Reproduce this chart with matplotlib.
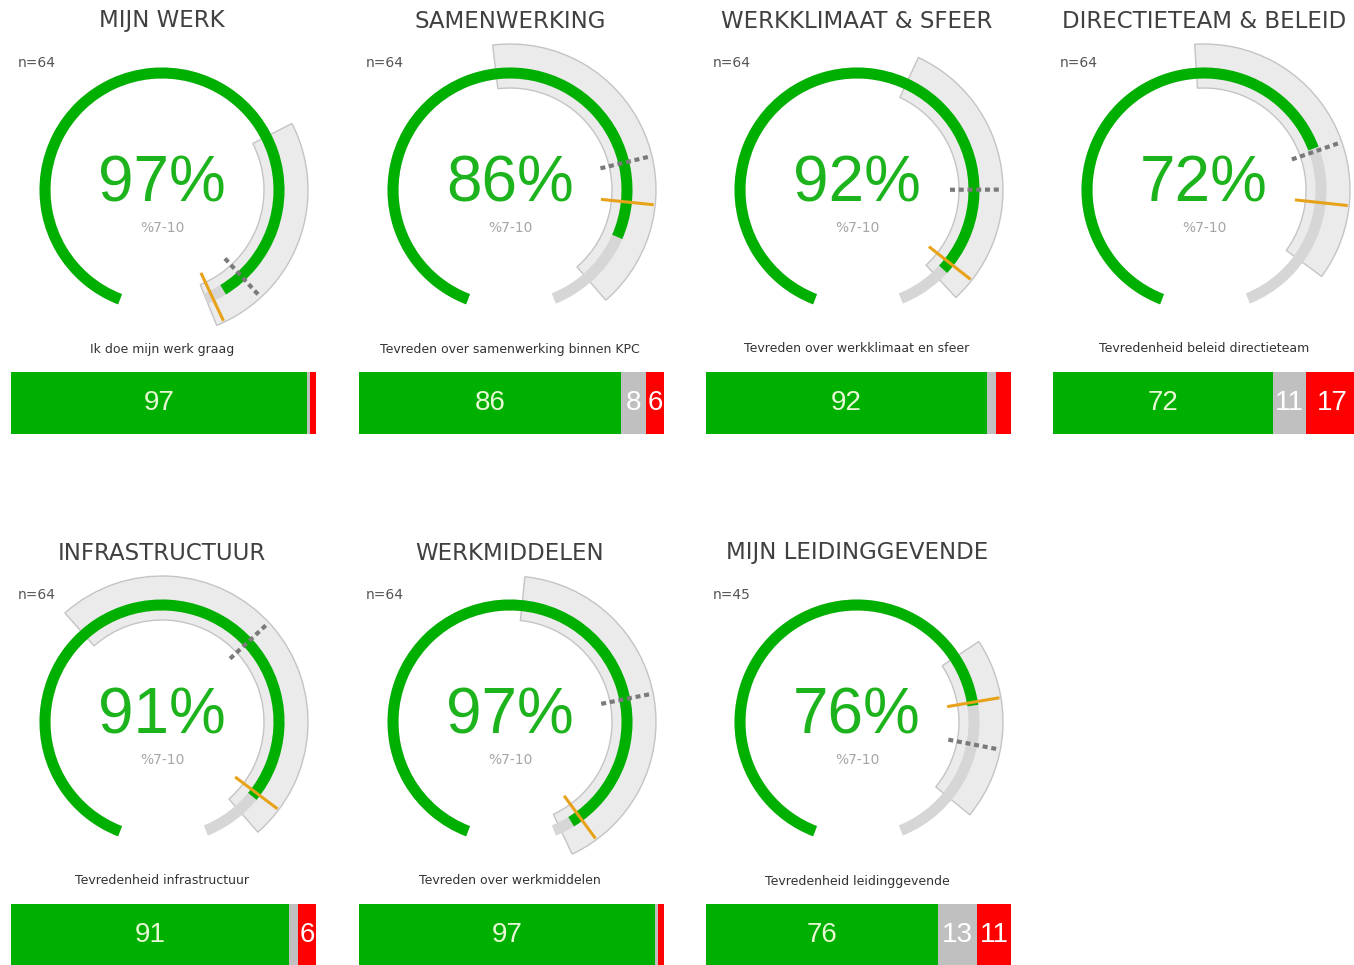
import matplotlib
matplotlib.use("Agg")
import matplotlib.pyplot as plt
from matplotlib.patches import Wedge
import numpy as np

W, H = 1354, 965

titles = ["MIJN WERK", "SAMENWERKING", "WERKKLIMAAT & SFEER", "DIRECTIETEAM & BELEID",
          "INFRASTRUCTUUR", "WERKMIDDELEN", "MIJN LEIDINGGEVENDE"]
n_resp = [64, 64, 64, 64, 64, 64, 45]
scores = [97, 86, 92, 72, 91, 97, 76]
band_low = [70, 48, 58, 49, 37, 52, 68]
band_high = [100, 94, 93.5, 90, 94, 99, 91]
benchmark = [93.5, 74.3, 78.5, 72.5, 65, 75, 82]
previous = [99, 80.4, 90.6, 80.5, 90.2, 95.5, 75.5]
questions = ["Ik doe mijn werk graag", "Tevreden over samenwerking binnen KPC",
             "Tevreden over werkklimaat en sfeer", "Tevredenheid beleid directieteam",
             "Tevredenheid infrastructuur", "Tevreden over werkmiddelen",
             "Tevredenheid leidinggevende"]
pos = [97, 86, 92, 72, 91, 97, 76]
neu = [1, 8, 3, 11, 3, 1, 13]
neg = [2, 6, 5, 17, 6, 2, 11]

GREEN = "#00b000"
START, SPAN = 249, 317

def ang(p):
    return START - SPAN * p / 100.0

col_x = [162, 510, 857, 1204]
row_dy = [0, 532]

plt.rcParams["font.family"] = ["DejaVu Sans"]
fig = plt.figure(figsize=(W / 100, H / 100), dpi=100)
fig.patch.set_facecolor("white")

def fy(y):
    return 1 - y / H

for i in range(len(titles)):
    cx = col_x[i % 4]
    dy = row_dy[i // 4]
    cy = 190 + dy

    fig.text(cx / W, fy(21 + dy), titles[i], ha="center", va="center",
             fontsize=16.5, color="#404040")
    fig.text((cx - 144) / W, fy(63 + dy), "n=%d" % n_resp[i], ha="left", va="center",
             fontsize=10, color="#555555")

    # gauge
    R = 165
    ax = fig.add_axes([(cx - R) / W, fy(cy + R), 2 * R / W, 2 * R / H])
    ax.set_xlim(-R, R)
    ax.set_ylim(-R, R)
    ax.axis("off")

    ax.add_patch(Wedge((0, 0), 146, ang(band_high[i]), ang(band_low[i]), width=44,
                       facecolor="#ebebeb", edgecolor="#c4c4c4", lw=1.0, zorder=1))
    ax.add_patch(Wedge((0, 0), 122.5, ang(100), ang(0), width=11,
                       facecolor="#d6d6d6", edgecolor="none", zorder=2))
    ax.add_patch(Wedge((0, 0), 122.5, ang(scores[i]), ang(0), width=11,
                       facecolor=GREEN, edgecolor="none", zorder=3))

    r = np.array([93, 143])
    a = np.radians(ang(benchmark[i]))
    ax.plot(r * np.cos(a), r * np.sin(a), color="#7a7a7a", lw=3,
            dashes=(1.2, 0.9), solid_capstyle="butt", zorder=4)
    a = np.radians(ang(previous[i]))
    ax.plot(r * np.cos(a), r * np.sin(a), color="#e8a21a", lw=2.2, zorder=5)

    ax.text(0, 5, "%d%%" % scores[i], ha="center", va="center", fontsize=46,
            color="#1db31d", family=["Liberation Sans", "DejaVu Sans"])
    ax.text(0, -38, "%7-10", ha="center", va="center", fontsize=10, color="#a6a6a6")

    # question + stacked bar
    fig.text(cx / W, fy(349 + dy), questions[i], ha="center", va="center",
             fontsize=9, color="#333333")
    bx = fig.add_axes([(cx - 151) / W, fy(434 + dy), 305 / W, 62 / H])
    bx.set_xlim(0, 100)
    bx.set_ylim(-0.5, 0.5)
    bx.axis("off")
    left = 0
    for val, colr, tc in [(pos[i], GREEN, "#e8f7d4"), (neu[i], "#c0c0c0", "white"),
                          (neg[i], "#ff0000", "white")]:
        bx.barh(0, val, left=left, height=1.0, color=colr, edgecolor="none")
        if val >= 6:
            bx.text(left + val / 2, 0, str(val), ha="center", va="center",
                    fontsize=20, color=tc, family=["Liberation Sans", "DejaVu Sans"])
        left += val

fig.savefig("out.png", dpi=100, facecolor="white")
